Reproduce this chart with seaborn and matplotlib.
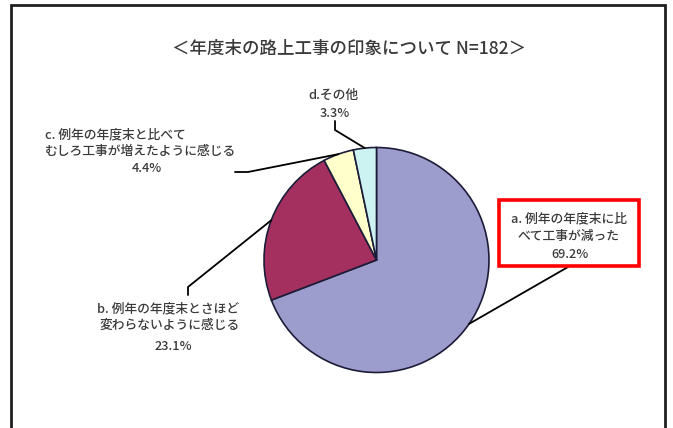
import matplotlib
matplotlib.use("Agg")
import matplotlib.pyplot as plt
from matplotlib.patches import Rectangle
import numpy as np
import seaborn as sns

# ---- data ----
categories = ["a", "b", "c", "d"]
values = [69.2, 23.1, 4.4, 3.3]
label_lines = {
    "a": ["a. 例年の年度末に比", "べて工事が減った"],
    "b": ["b. 例年の年度末とさほど", "変わらないように感じる"],
    "c": ["c. 例年の年度末と比べて", "むしろ工事が増えたように感じる"],
    "d": ["d.その他"],
}
pct_labels = ["69.2%", "23.1%", "4.4%", "3.3%"]
title = "＜年度末の路上工事の印象について N=182＞"
slice_colors = ["#9c9ccd", "#a3305f", "#ffffcc", "#cdf2f2"]

sns.set_theme(style="white")
plt.rcParams["font.family"] = ["Noto Sans CJK JP", "DejaVu Sans"]

W, H = 673, 428
fig = plt.figure(figsize=(W / 100, H / 100), dpi=100)
ax = fig.add_axes([0, 0, 1, 1])

def Y(y):
    return H - y

cx, cy, r = 376.5, 260.0, 112.5
palette = sns.color_palette(slice_colors)
wedges, _ = ax.pie(values, colors=palette, startangle=90, counterclock=False,
                   center=(cx, Y(cy)), radius=r, frame=True,
                   wedgeprops=dict(edgecolor="#1c1c38", linewidth=1.2))
ax.set_xlim(0, W)
ax.set_ylim(0, H)
ax.set_aspect("auto")
ax.axis("off")

# outer frame
ax.add_patch(Rectangle((11, Y(440)), 654, 435, fill=False,
                       edgecolor="#202020", linewidth=2, zorder=0))

txt_color = "#3a3a3a"
ax.text(349, Y(49), title, ha="center", va="center", fontsize=12.6,
        color=txt_color, fontweight="medium")

def edge_point(w):
    mid = np.deg2rad((w.theta1 + w.theta2) / 2)
    return cx + r * np.cos(mid), Y(cy) + r * np.sin(mid)

fs = 9.2
kw = dict(fontsize=fs, color=txt_color, fontweight="medium")
# d label
ax.text(333, Y(95), label_lines["d"][0], ha="center", va="center", **kw)
ax.text(335, Y(113), pct_labels[3], ha="center", va="center", **kw)
ex, ey = edge_point(wedges[3])
ax.plot([335, 335, ex], [Y(121), Y(130), ey], color="black", lw=1.3)

# c label
ax.text(45, Y(135), label_lines["c"][0], ha="left", va="center", **kw)
ax.text(45, Y(151), label_lines["c"][1], ha="left", va="center", **kw)
ax.text(147, Y(168), pct_labels[2], ha="center", va="center", **kw)
ex, ey = edge_point(wedges[2])
ax.plot([235, 248, ex], [Y(172), Y(172), ey], color="black", lw=1.3)

# b label
ax.text(97, Y(309), label_lines["b"][0], ha="left", va="center", **kw)
ax.text(100, Y(325), label_lines["b"][1], ha="left", va="center", **kw)
ax.text(173, Y(346), pct_labels[1], ha="center", va="center", **kw)
ex, ey = edge_point(wedges[1])
ax.plot([188, 188, ex], [Y(295), Y(287), ey], color="black", lw=1.3)

# a label with red box
ax.add_patch(Rectangle((499, Y(266)), 140, 66, fill=True, facecolor="white",
                       edgecolor="#ff0000", linewidth=2.6, zorder=3))
ax.text(569, Y(219), label_lines["a"][0], ha="center", va="center", zorder=4, **kw)
ax.text(569, Y(236), label_lines["a"][1], ha="center", va="center", zorder=4, **kw)
ax.text(570, Y(254), pct_labels[0], ha="center", va="center", zorder=4, **kw)
ex, ey = edge_point(wedges[0])
ax.plot([568, ex], [Y(267), ey], color="black", lw=1.3)

fig.savefig("out.png", dpi=100)
